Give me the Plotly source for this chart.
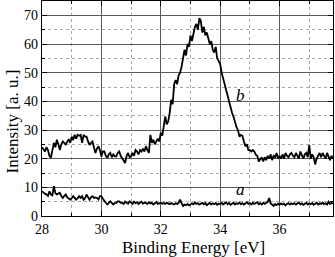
import plotly.graph_objects as go

# Sampling grid of the spectra (eV)
energy_start = 28.0
energy_step = 0.05

# Curve b (upper spectrum), intensity [a. u.]
b_values = [
    24, 23, 22.5, 24, 23, 21, 20.3, 23, 25.5, 24,
    26.6, 25, 23, 25, 26, 25.5, 24.8, 26, 26.6, 25.5,
    27.7, 26.5, 28.3, 27, 28.3, 28, 28.3, 25.5, 28.3, 27.7,
    27.7, 26, 24.8, 25.5, 26, 24, 22, 23.5, 24.3, 23,
    20.8, 22.5, 22.5, 21, 20.3, 21.5, 22, 20.5, 21.5, 20.8,
    20.8, 22, 22.5, 21, 20.3, 19.5, 18.5, 21, 22, 20.5,
    20.8, 22, 21, 23, 22.5, 21.5, 23, 22.5, 23.5, 22.5,
    24.3, 23, 22, 28.3, 25.5, 26.6, 25, 26, 27, 26,
    29, 28, 31, 34.7, 32, 33, 35.9, 40.5, 39, 46,
    47.4, 46, 49, 50, 52, 55, 58, 56, 60, 59,
    63, 61, 64, 66, 67, 65, 69, 68, 64, 66,
    63, 64, 62, 60, 61, 58, 57, 59, 55, 54,
    53, 50, 48, 45, 44, 41, 40, 38, 36, 34.6,
    32.4, 31, 30, 27.7, 28.3, 28, 26, 24.3, 25, 23,
    23, 22.5, 23, 22.5, 21.4, 21, 19, 20, 20.5, 19,
    20.5, 19.5, 21, 20, 21.5, 19.5, 21, 20.5, 22, 20,
    21, 20, 21.5, 20, 22, 21, 20.5, 21.5, 22, 21,
    20.5, 22, 21, 20, 22.5, 21, 20, 21.5, 22, 20.5,
    24.8, 20, 21.5, 20.5, 18, 20, 21, 22, 20.5, 22,
    21, 20, 22, 21, 19.5, 21, 20,
]

# Curve a (lower spectrum), intensity [a. u.]
a_values = [
    8.6, 8.1, 7.8, 7.5, 7, 8.6, 7.5, 7.2, 10.4, 8,
    7.5, 7.8, 8.1, 7, 6.3, 7, 7.5, 6.5, 6, 5.7,
    6.2, 6.9, 6.3, 5.7, 6.2, 6.9, 6.3, 6.9, 5.7, 6.2,
    7.5, 6.8, 5.7, 6.5, 6.9, 6.3, 6.5, 6.3, 5.8, 6.9,
    6.9, 6, 5.1, 4.6, 4.0, 4.5, 5.1, 4.6, 4, 4.5,
    4.6, 5.1, 5.1, 4.6, 4.6, 4.2, 5, 4.6, 4.3, 5.1,
    4.6, 4.2, 5, 4.5, 4.8, 4.2, 4.6, 5, 4.3, 4.7,
    4.5, 4.2, 4.8, 4.4, 4.6, 4.0, 4.5, 4.8, 4.2, 4.5,
    4.6, 4.3, 4.5, 4.2, 4.6, 4.4, 4.1, 4.5, 4.3, 4.0,
    4.4, 4.2, 4.6, 5.7, 4.5, 3.5, 4.0, 3.8, 4.2, 3.7,
    4.0, 4.4, 4.1, 4.7, 4.2, 4.5, 4.0, 4.3, 4.6, 4.1,
    4.5, 3.8, 4.2, 4.6, 4.0, 4.4, 4.1, 4.5, 3.9, 4.3,
    4.2, 4.6, 4.0, 4.4, 4.8, 4.1, 4.5, 3.9, 4.3, 4.6,
    4.0, 4.4, 4.2, 4.7, 4.1, 4.5, 4.0, 4.4, 4.8, 4.2,
    4.5, 4.0, 4.6, 4.2, 4.4, 4.8, 4.1, 4.5, 4.0, 4.6,
    4.2, 4.5, 4.9, 6.3, 4.4, 4.0, 3.5, 4.2, 3.8, 4.3,
    3.9, 4.4, 4.0, 4.3, 3.7, 4.2, 4.5, 4.0, 4.4, 4.1,
    4.5, 4.0, 4.3, 4.7, 4.1, 4.4, 3.9, 4.3, 4.6, 4.0,
    4.4, 4.1, 4.5, 3.9, 4.3, 4.6, 4.0, 4.4, 4.2, 4.7,
    4.1, 4.5, 4.0, 5.0, 4.2, 4.6, 4.3,
]

x_tick_values = [28, 30, 32, 34, 36]
y_tick_values = [0, 10, 20, 30, 40, 50, 60, 70]

curve_labels = ["b", "a"]
label_x = [34.7, 34.7]
label_y = [42.2, 9.2]

x_title = "Binding Energy [eV]"
y_title = "Intensity [a. u.]"

energy_b = [round(energy_start + energy_step * i, 2) for i in range(len(b_values))]
energy_a = [round(energy_start + energy_step * i, 2) for i in range(len(a_values))]

serif = "Liberation Serif, Times New Roman, serif"

fig = go.Figure()
fig.add_trace(go.Scatter(x=energy_b, y=b_values, mode="lines",
                         line=dict(color="black", width=1.8), showlegend=False))
fig.add_trace(go.Scatter(x=energy_a, y=a_values, mode="lines",
                         line=dict(color="black", width=1.8), showlegend=False))

for t, lx, ly in zip(curve_labels, label_x, label_y):
    fig.add_annotation(x=lx, y=ly, text="<i>%s</i>" % t, showarrow=False,
                       font=dict(family=serif, size=17, color="black"))

# axis titles
fig.add_annotation(xref="paper", yref="paper", x=0.522, y=0, yshift=-20,
                   xanchor="center", yanchor="top", showarrow=False,
                   text=x_title, font=dict(family=serif, size=17, color="black"))
fig.add_annotation(xref="paper", yref="paper", x=0, y=0.44, xshift=-30,
                   xanchor="center", yanchor="middle", showarrow=False, textangle=-90,
                   text=y_title, font=dict(family=serif, size=17, color="black"))

axis_common = dict(
    showline=True, linecolor="black", linewidth=1.2, mirror="ticks",
    ticks="inside", ticklen=5, tickcolor="black", tickwidth=1,
    showgrid=True, gridcolor="#5a5a5a", gridwidth=1,
    zeroline=False, automargin=False,
    tickfont=dict(family=serif, size=14, color="black"),
)

fig.update_xaxes(
    range=[28, 37.8], tickvals=x_tick_values,
    minor=dict(dtick=1, showgrid=True, gridcolor="#a8a8a8", griddash="dot",
               ticks="inside", ticklen=3, tickcolor="black"),
    **axis_common,
)
fig.update_yaxes(
    range=[0, 75], tickvals=y_tick_values,
    minor=dict(dtick=5, showgrid=True, gridcolor="#a8a8a8", griddash="dot",
               ticks="inside", ticklen=3, tickcolor="black"),
    **axis_common,
)

fig.update_layout(
    width=335, height=257,
    margin=dict(l=42, r=2, t=1, b=41),
    paper_bgcolor="white", plot_bgcolor="white",
)

fig.write_html("out.html",
               config={"displayModeBar": False},
               post_script="document.body.style.margin='0';document.body.style.overflow='hidden';")
